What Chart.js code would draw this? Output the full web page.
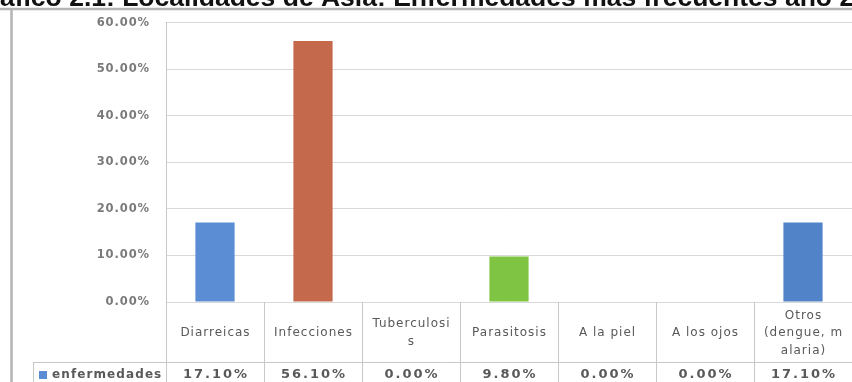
<!DOCTYPE html>
<html>
<head>
<meta charset="utf-8">
<script src="https://cdn.jsdelivr.net/npm/chart.js@4.4.0/dist/chart.umd.min.js"></script>
<style>
  html, body { margin: 0; padding: 0; background: #fff; }
  #wrap { position: relative; width: 852px; height: 382px; }
</style>
</head>
<body>
<div id="wrap"><canvas id="chart"></canvas></div>
<script>
// chart data
const categories = ['Diarreicas', 'Infecciones', 'Tuberculosis', 'Parasitosis', 'A la piel', 'A los ojos', 'Otros (dengue, malaria)'];
const labelLines = [['Diarreicas'], ['Infecciones'], ['Tuberculosi', 's'], ['Parasitosis'], ['A la piel'], ['A los ojos'], ['Otros', '(dengue, m', 'alaria)']];
const values = [17.1, 56.1, 0, 9.8, 0, 0, 17.1];
const barColors = ['#5a8dd4', '#c4694c', '#a5a5a5', '#7fc443', '#8064a2', '#4bacc6', '#5083c8'];
const seriesName = 'enfermedades';
const yMax = 60;
const yStep = 10;
const titleText = 'Gráfico 2.1: Localidades de Asia: Enfermedades más frecuentes año 2';

const pct = v => v.toFixed(2) + '%';

// frame, cut title and the data table under the plot
const tablePlugin = {
    id: 'dataTable',
    beforeDraw(chart) {
        const ctx = chart.ctx;
        ctx.save();
        ctx.strokeStyle = '#b4b4b4';
        ctx.lineWidth = 2.5;
        ctx.beginPath();
        ctx.moveTo(0, 9);
        ctx.lineTo(chart.width, 9);
        ctx.moveTo(11.5, 9);
        ctx.lineTo(11.5, chart.height);
        ctx.stroke();
        ctx.font = 'bold 26.5px "Liberation Sans"';
        ctx.fillStyle = '#111';
        ctx.textBaseline = 'alphabetic';
        ctx.fillText(titleText, -31, 6);
        ctx.restore();
        ctx.letterSpacing = '0.9px';
    },
    beforeDatasetsDraw(chart) {
        chart.ctx.letterSpacing = '0px';
    },
    afterDraw(chart) {
        const ctx = chart.ctx;
        const area = chart.chartArea;
        const x = chart.scales.x;
        const half = (x.getPixelForValue(1) - x.getPixelForValue(0)) / 2;
        const bottom = chart.height;
        const rowY = 362;

        ctx.save();
        ctx.strokeStyle = '#c8c8c8';
        ctx.lineWidth = 1;
        ctx.beginPath();
        for (let i = 0; i <= labelLines.length; i++) {
            const bx = Math.round(x.getPixelForValue(i) - half) + 0.5;
            ctx.moveTo(bx, area.bottom);
            ctx.lineTo(bx, bottom);
        }
        ctx.moveTo(33, rowY + 0.5);
        ctx.lineTo(area.right, rowY + 0.5);
        ctx.moveTo(33.5, rowY);
        ctx.lineTo(33.5, bottom);
        ctx.stroke();

        ctx.fillStyle = '#595959';
        ctx.textAlign = 'center';
        ctx.textBaseline = 'middle';

        // category labels
        ctx.font = '12px "DejaVu Sans"';
        ctx.letterSpacing = '1px';
        labelLines.forEach((lines, i) => {
            const cx = x.getPixelForValue(i) + 0.5;
            const y0 = 333 - (lines.length - 1) * 17.5 / 2;
            lines.forEach((t, j) => ctx.fillText(t, cx, y0 + j * 17.5));
        });

        // values row
        ctx.font = 'bold 13px "DejaVu Sans"';
        ctx.letterSpacing = '2px';
        values.forEach((v, i) => {
            ctx.fillText(pct(v), x.getPixelForValue(i) + 1, 375);
        });

        // legend key
        ctx.fillStyle = barColors[0];
        ctx.fillRect(39, 371, 8, 8);
        ctx.fillStyle = '#595959';
        ctx.textAlign = 'left';
        ctx.font = 'bold 12px "DejaVu Sans"';
        ctx.letterSpacing = '1.1px';
        ctx.fillText(seriesName, 52, 375);
        ctx.restore();
        ctx.letterSpacing = '0px';
    }
};

new Chart(document.getElementById('chart').getContext('2d'), {
    type: 'bar',
    data: {
        labels: categories,
        datasets: [{
            label: seriesName,
            data: values,
            backgroundColor: barColors,
            borderWidth: 0,
            barPercentage: 0.4,
            categoryPercentage: 1
        }]
    },
    options: {
        responsive: true,
        maintainAspectRatio: false,
        animation: false,
        layout: { padding: { top: 18, bottom: 80, left: 0, right: 0 } },
        plugins: {
            legend: { display: false },
            title: { display: false },
            tooltip: { enabled: false }
        },
        scales: {
            x: { display: false, offset: true },
            y: {
                min: 0,
                max: yMax,
                afterFit: s => { s.width = 166; },
                ticks: {
                    stepSize: yStep,
                    padding: 16,
                    color: '#7a7a7a',
                    font: { family: 'DejaVu Sans', size: 11.5, weight: 'bold' },
                    callback: v => pct(v)
                },
                grid: { color: '#d9d9d9', drawTicks: false },
                border: { display: true, color: '#c8c8c8' }
            }
        }
    },
    plugins: [tablePlugin]
});
</script>
</body>
</html>
